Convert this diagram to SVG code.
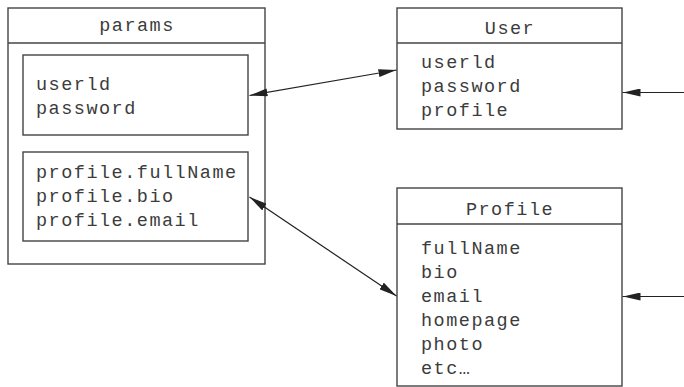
<svg xmlns="http://www.w3.org/2000/svg" width="684" height="387" viewBox="0 0 684 387">
<style>
.box{fill:#fff;stroke:#444;stroke-width:1.4}
.sep{stroke:#444;stroke-width:1.4}
.t{font-family:"Liberation Mono","Courier New",monospace;font-size:18.5px;letter-spacing:1.5px;fill:#3c3c3c}
.h{text-anchor:middle}
.c{stroke:#222;stroke-width:1.2;fill:none}
</style>
<defs>
<marker id="ah" viewBox="0 0 18 8" refX="18" refY="4" markerWidth="18" markerHeight="8" markerUnits="userSpaceOnUse" orient="auto-start-reverse">
<path d="M0,0 L18,4 L0,8 Z" fill="#222"/>
</marker>
</defs>
<rect width="684" height="387" fill="#fff"/>
<g id="params">
<rect class="box" x="8" y="8" width="257" height="256"/>
<line class="sep" x1="8" y1="43" x2="265" y2="43"/>
<text class="t h" x="137" y="31">params</text>
<rect class="box" x="23" y="55" width="225" height="80"/>
<text class="t" x="36" y="90">userld</text>
<text class="t" x="36" y="114">password</text>
<rect class="box" x="23" y="152" width="225" height="89"/>
<text class="t" x="36" y="178">profile.fullName</text>
<text class="t" x="36" y="202">profile.bio</text>
<text class="t" x="36" y="226">profile.email</text>
</g>
<g id="user">
<rect class="box" x="397" y="8" width="225" height="121"/>
<line class="sep" x1="397" y1="43" x2="622" y2="43"/>
<text class="t h" x="510" y="34">User</text>
<text class="t" x="421" y="68">userld</text>
<text class="t" x="421" y="92">password</text>
<text class="t" x="421" y="116">profile</text>
</g>
<g id="profile">
<rect class="box" x="397" y="188" width="225" height="198"/>
<line class="sep" x1="397" y1="224" x2="622" y2="224"/>
<text class="t h" x="510" y="215">Profile</text>
<text class="t" x="421" y="254">fullName</text>
<text class="t" x="421" y="278">bio</text>
<text class="t" x="421" y="302">email</text>
<text class="t" x="421" y="326">homepage</text>
<text class="t" x="421" y="350">photo</text>
<text class="t" x="421" y="374">etc…</text>
</g>
<g id="connectors">
<line class="c" x1="249.5" y1="95.5" x2="396.5" y2="70" marker-start="url(#ah)" marker-end="url(#ah)"/>
<line class="c" x1="249.5" y1="197" x2="396.5" y2="296" marker-start="url(#ah)" marker-end="url(#ah)"/>
<line class="c" x1="684" y1="92.5" x2="622.5" y2="92.5" marker-end="url(#ah)"/>
<line class="c" x1="684" y1="296.5" x2="622.5" y2="296.5" marker-end="url(#ah)"/>
</g>
</svg>
